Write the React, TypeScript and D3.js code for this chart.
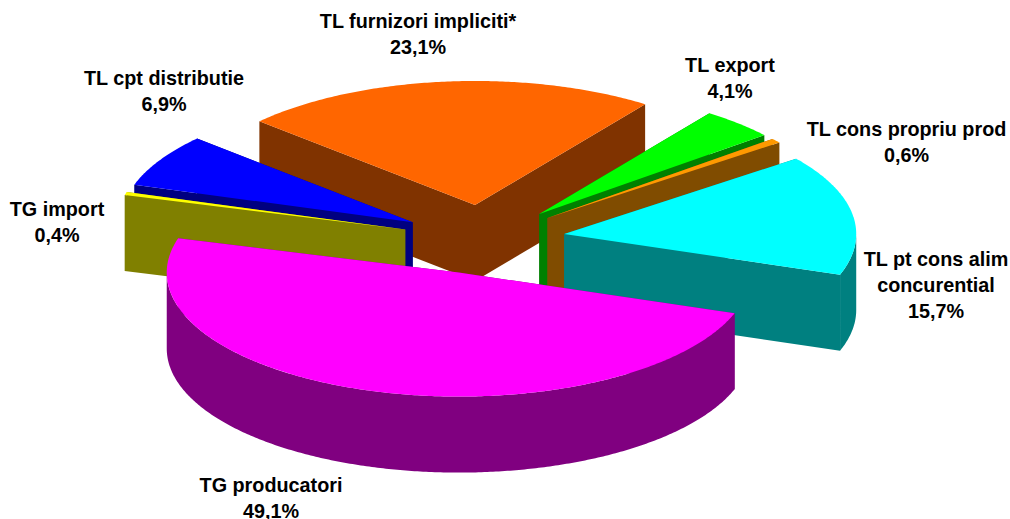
import React from "react";
import * as d3 from "d3";

const categories = ["TL furnizori impliciti*", "TL export", "TL cons propriu prod", "TL pt cons alim concurential", "TG producatori", "TG import", "TL cpt distributie"];
const values = [23.1, 4.1, 0.6, 15.7, 49.1, 0.4, 6.9];
const topColors = ["#FF6600", "#00FF00", "#FF9900", "#00FFFF", "#FF00FF", "#FFFF00", "#0000FF"];
const sideColors = ["#803300", "#008000", "#804C00", "#008080", "#800080", "#808000", "#000080"];
const paintOrder = [0, 6, 5, 1, 2, 3, 4];

// Label text lines and anchor (centre x, baseline y per line)
const labelLines = [
  ["TL furnizori impliciti*", "23,1%"],
  ["TL export", "4,1%"],
  ["TL cons propriu prod", "0,6%"],
  ["TL pt cons alim", "concurential", "15,7%"],
  ["TG producatori", "49,1%"],
  ["TG import", "0,4%"],
  ["TL cpt distributie", "6,9%"],
];
const labelX = [418, 730, 906.5, 936, 271, 57, 164];
const labelY = [28, 72, 136, 265.5, 492, 216, 85];
const lineGap = 26;

const W = 1010, H = 519;
const CX = 483.5, CY = 239.5, RX = 292, RY = 124, DEPTH = 76, EXPLODE = 0.28;
const START = (-47.6 * Math.PI) / 180;

const sx = d3.scaleLinear().domain([-1, 1]).range([CX - RX, CX + RX]);
const sy = d3.scaleLinear().domain([-1, 1]).range([CY - RY, CY + RY]);

const pie = d3.pie<number>().sort(null).startAngle(START).endAngle(START + 2 * Math.PI);
const arcs = pie(values);

type P = [number, number];
const line = d3.line<P>().x((d) => d[0]).y((d) => d[1]);

function slice(i: number) {
  const a = arcs[i];
  const mid = (a.startAngle + a.endAngle) / 2;
  const ox = EXPLODE * Math.sin(mid);
  const oy = -EXPLODE * Math.cos(mid);
  const pt = (ang: number, r: number, dz = 0): P => [
    sx(ox + r * Math.sin(ang)),
    sy(oy - r * Math.cos(ang)) + dz,
  ];
  const angles = (from: number, to: number) => {
    const n = Math.max(2, Math.ceil(Math.abs(to - from) / 0.01));
    return d3.range(n + 1).map((k) => from + ((to - from) * k) / n);
  };
  const apex = pt(0, 0);
  const apexB = pt(0, 0, DEPTH);
  const rim = angles(a.startAngle, a.endAngle).map((t) => pt(t, 1));
  const top = line([apex, ...rim])! + "Z";
  const wall = (ang: number) =>
    line([apex, pt(ang, 1), pt(ang, 1, DEPTH), apexB])! + "Z";
  // the visible outer wall is the part of the rim facing the viewer
  const lo = Math.max(a.startAngle, Math.PI / 2);
  const hi = Math.min(a.endAngle, (3 * Math.PI) / 2);
  let outer: string | null = null;
  if (hi > lo) {
    const front = angles(lo, hi);
    outer =
      line([
        ...front.map((t) => pt(t, 1)),
        ...front.slice().reverse().map((t) => pt(t, 1, DEPTH)),
      ])! + "Z";
  }
  return { top, walls: [wall(a.startAngle), wall(a.endAngle)], outer };
}

export default function App() {
  return (
    <svg
      width={W}
      height={H}
      viewBox={`0 0 ${W} ${H}`}
      style={{ position: "absolute", left: 0, top: 0, background: "#fff" }}
    >
      {paintOrder.map((i) => {
        const s = slice(i);
        return (
          <g key={categories[i]}>
            {s.walls.map((d, k) => (
              <path key={k} d={d} fill={sideColors[i]} />
            ))}
            {s.outer && <path d={s.outer} fill={sideColors[i]} />}
            <path d={s.top} fill={topColors[i]} />
          </g>
        );
      })}
      {labelLines.map((lines, i) => (
        <text
          key={i}
          textAnchor="middle"
          fontFamily="'Liberation Sans', Arial, sans-serif"
          fontWeight="bold"
          fontSize={19.8}
          fill="#000"
        >
          {lines.map((t, k) => (
            <tspan key={k} x={labelX[i]} y={labelY[i] + k * lineGap}>
              {t}
            </tspan>
          ))}
        </text>
      ))}
    </svg>
  );
}
